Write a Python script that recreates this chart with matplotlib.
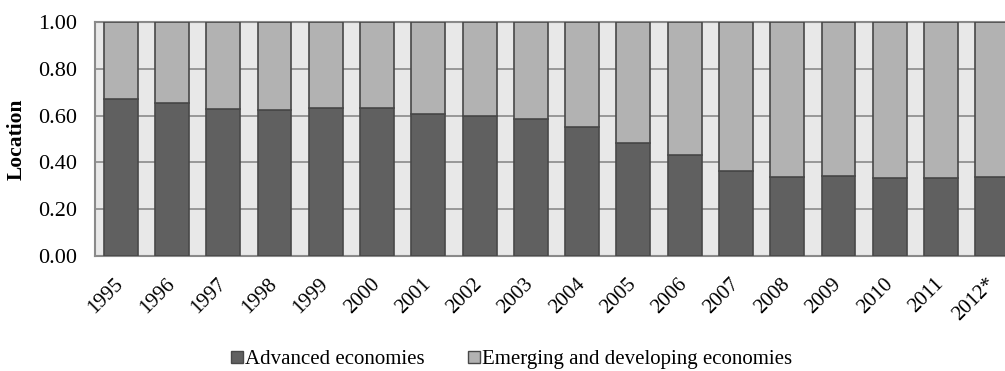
import matplotlib.pyplot as plt
import numpy as np
from matplotlib.patches import Patch

plt.rcParams['font.family'] = ['Liberation Serif', 'DejaVu Serif']

years = ["1995", "1996", "1997", "1998", "1999", "2000", "2001", "2002", "2003",
         "2004", "2005", "2006", "2007", "2008", "2009", "2010", "2011", "2012*"]
advanced = [0.672, 0.652, 0.627, 0.624, 0.631, 0.631, 0.608, 0.598, 0.585,
            0.553, 0.482, 0.430, 0.363, 0.339, 0.340, 0.335, 0.335, 0.336]
emerging = [1 - a for a in advanced]

dark = "#606060"
light = "#b2b2b2"
edge = "#484848"

fig = plt.figure(figsize=(10.05, 3.71), dpi=100)
# plot area runs a little past the right border, so the last bar is cut off
ax = fig.add_axes([95 / 1005, 115 / 371, 923 / 1005, 234 / 371])
ax.set_facecolor("#e8e8e8")

x = np.arange(len(years))
ax.bar(x, advanced, width=0.66, color=dark, edgecolor=edge, linewidth=1.2, zorder=3)
ax.bar(x, emerging, bottom=advanced, width=0.66, color=light, edgecolor=edge,
       linewidth=1.2, zorder=3)

ax.set_xlim(-0.5, len(years) - 0.5)
ax.set_ylim(0, 1)
ax.set_yticks(np.arange(0, 1.01, 0.2))
ax.set_yticklabels([f"{v:.2f}" for v in np.arange(0, 1.01, 0.2)], fontsize=16)
ax.set_xticks(x)
ax.set_xticklabels(years, rotation=45, ha="right", va="center",
                   rotation_mode="anchor", fontsize=15)
ax.tick_params(axis="both", length=0)
ax.tick_params(axis="x", pad=18)
ax.tick_params(axis="y", pad=13)
ax.yaxis.grid(True, color="#8a8a8a", linewidth=1.2, zorder=0)
ax.set_axisbelow(True)
for side in ["left", "bottom", "top", "right"]:
    ax.spines[side].set_color("#8a8a8a")
    ax.spines[side].set_linewidth(1.5)

ax.set_ylabel("Location", fontsize=15.5, fontweight="bold", labelpad=8)

handles = [Patch(facecolor=dark, edgecolor=edge, label="Advanced economies"),
           Patch(facecolor=light, edgecolor=edge, label="Emerging and developing economies")]
fig.legend(handles=handles, loc="center", bbox_to_anchor=(0.509, 0.03), ncol=2,
           frameon=False, fontsize=15, handlelength=0.55, handleheight=0.55,
           handletextpad=0.1, columnspacing=2.1, borderpad=0)

fig.savefig("out.png", dpi=100)
plt.close()
